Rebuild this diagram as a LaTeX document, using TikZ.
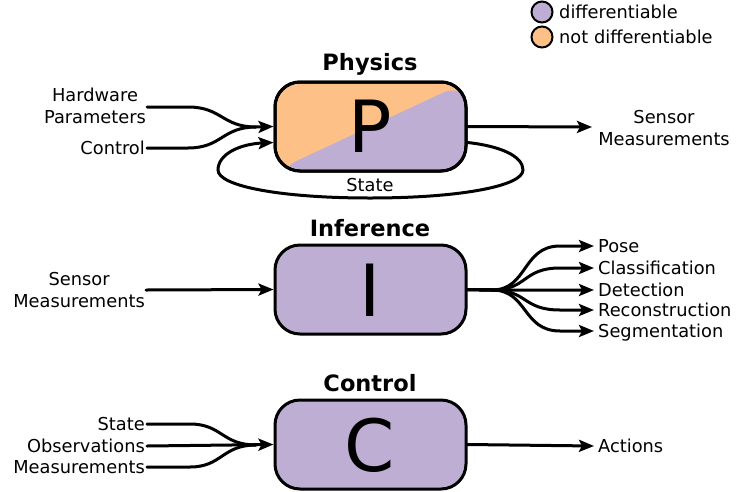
\documentclass[tikz,border=0pt]{standalone}
\usepackage{fontspec}
\setmainfont{DejaVu Sans}
\usetikzlibrary{arrows.meta}
\definecolor{purp}{HTML}{BEAED4}
\definecolor{orng}{HTML}{FDC086}
\begin{document}
\begin{tikzpicture}[x=1pt,y=-1pt,
  every node/.style={font=\fontsize{17.8}{21.5}\selectfont},
  blk/.style={draw=black, line width=3pt, fill=purp, rounded corners=25pt,
    minimum width=191pt, minimum height=89pt, inner sep=0pt,
    font=\fontsize{72}{72}\selectfont},
  ttl/.style={font=\fontsize{22.5}{26}\selectfont\bfseries},
  lbl/.style={inner sep=2pt, text height=17pt, text depth=3.7pt},
  wire/.style={line width=3pt, line cap=round},
  arr/.style={wire, -{Stealth[length=15pt,width=12pt,inset=3pt]}},
  leg/.style={circle, draw=black, line width=2pt, minimum width=20pt, minimum height=21pt, inner sep=0pt}
]
\useasboundingbox (0,0) rectangle (748,491);

% legend
\node[leg, fill=purp] (lp) at (542,12) {};
\node[lbl, anchor=west] (ltp) at (557,12) {differentiable};
\node[leg, fill=orng] (lo) at (542,37) {};
\node[lbl, anchor=west] (lto) at (557,37) {not differentiable};

% ---------------- Physics
\node[ttl] (tP) at (370,64) {Physics};
\node[blk, fill=orng,
  path picture={\fill[purp] (path picture bounding box.south west) -- (path picture bounding box.south east) -- (path picture bounding box.north east) -- cycle;}]
  (P) at (370.5,126.5) {};
\node (Pl) at (370,126) {\fontsize{72}{72}\selectfont P};
\node[blk, fill=none] (Pb) at (370.5,126.5) {};

\node[align=center, inner sep=1pt] (hw) at (95,106) {Hardware\\Parameters};
\node[lbl, anchor=east] (ctl) at (147,148) {Control};
\coordinate (hwS) at (148,107);
\draw[wire] (hw.east |- hwS) -- (188,107) .. controls (222,107) and (222,127) .. (256,127);
\draw[arr] (ctl.east) -- (188,148) .. controls (222,148) and (222,127) .. (256,127) -- (Pb.west);

\draw[arr] ([yshift=-16pt]Pb.east) .. controls (500,146) and (523,156) .. (523,170)
  .. controls (523,186) and (460,198) .. (370,198)
  .. controls (280,198) and (218,186) .. (218,170)
  .. controls (218,154) and (240,144) .. ([yshift=-16pt]Pb.west);
\node (st) at (370,185) {State};

\node[align=center] (smo) at (664,128) {Sensor\\Measurements};
\coordinate (smoT) at (592,127);
\draw[arr] (Pb.east) -- (smoT);

% ---------------- Inference
\node[ttl] (tI) at (370,228) {Inference};
\node[blk] (I) at (370.5,289.5) {};
\node (Il) at (370,290) {\fontsize{72}{72}\selectfont I};
\node[align=center, anchor=east, inner sep=1pt] (smi) at (146,290) {Sensor\\Measurements};
\draw[arr] (smi.east) -- (I.west);

\foreach \n/\t/\y in {o1/Pose/246, o2/Classification/268, o3/Detection/290, o4/Reconstruction/310, o5/Segmentation/331}{
  \node[lbl, anchor=west, inner sep=4pt] (\n) at (594,\y) {\t};
  \draw[arr] (I.east) -- (492,290) .. controls (528,290) and (522,\y) .. (560,\y) -- (\n.west);
}

% ---------------- Control
\node[ttl] (tC) at (370,383) {Control};
\node[blk] (C) at (370.5,444.5) {};
\node (Cl) at (370,445) {\fontsize{72}{72}\selectfont C};

\node[lbl, anchor=east] (i1) at (147,424) {State};
\node[lbl, anchor=east] (i2) at (147,446) {Observations};
\node[lbl, anchor=east] (i3) at (147,467) {Measurements};
\draw[wire] (i1.east) -- (190,424) .. controls (222,424) and (222,445) .. (256,445);
\draw[wire] (i3.east) -- (190,467) .. controls (222,467) and (222,445) .. (256,445);
\draw[arr] (i2.east) -- (C.west);

\node[lbl, anchor=west, inner sep=4pt] (act) at (594,446) {Actions};
\draw[arr] (C.east) -- (act.west);
\end{tikzpicture}
\end{document}
